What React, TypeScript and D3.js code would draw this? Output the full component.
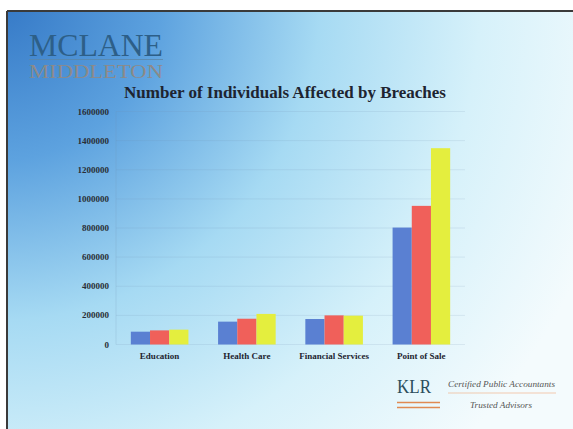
import React from 'react'
import * as d3 from 'd3'

const categories = ['Education', 'Health Care', 'Financial Services', 'Point of Sale']
const seriesNames = ['Series 1', 'Series 2', 'Series 3']
const series1 = [88000, 157000, 175000, 803000]
const series2 = [97000, 177000, 200000, 952000]
const series3 = [102000, 210000, 198000, 1348000]
const yTicks = [0, 200000, 400000, 600000, 800000, 1000000, 1200000, 1400000, 1600000]
const colors = ['#5a80d2', '#f0605a', '#e4ee3e']

const W = 573
const H = 429

const App = () => {
  const values = [series1, series2, series3]
  const x = d3.scaleBand().domain(categories).range([116, 465]).paddingInner(0.34).paddingOuter(0.17)
  const xs = d3.scaleBand().domain(seriesNames).range([0, x.bandwidth()])
  const y = d3.scaleLinear().domain([0, 1600000]).range([344.5, 111.5])
  const serif = '"Liberation Serif", "Times New Roman", serif'

  return (
    <svg width={W} height={H} style={{ position: 'fixed', left: 0, top: 0 }}>
      <defs>
        <radialGradient id='bg' gradientUnits='userSpaceOnUse' cx={0} cy={0} r={640}>
          <stop offset='0' stopColor='#3478c6' />
          <stop offset='0.25' stopColor='#5da2df' />
          <stop offset='0.5' stopColor='#a6daf3' />
          <stop offset='0.75' stopColor='#d6f1fa' />
          <stop offset='1' stopColor='#f4fbfd' />
        </radialGradient>
      </defs>
      <rect x={0} y={0} width={W} height={H} fill='#ffffff' />
      <rect x={7} y={11} width={W - 7} height={H - 11} fill='url(#bg)' />
      <line x1={7} x2={W} y1={11} y2={11} stroke='#3a3a3a' strokeWidth={2} />
      <line x1={7} x2={7} y1={11} y2={H} stroke='#3a3a3a' strokeWidth={2} />

      {/* logo top left */}
      <text x={29} y={56} fontFamily={serif} fontSize={32} fill='#2d5f88' textLength={134} lengthAdjust='spacingAndGlyphs'>MCLANE</text>
      <line x1={29} x2={163} y1={59.5} y2={59.5} stroke='#5b86a8' strokeWidth={0.8} />
      <text x={29} y={78} fontFamily={serif} fontSize={18} fill='#8c8a88' textLength={134} lengthAdjust='spacingAndGlyphs'>MIDDLETON</text>

      <text x={285} y={98} textAnchor='middle' fontFamily={serif} fontWeight='bold' fontSize={17} fill='#1e2430'>
        Number of Individuals Affected by Breaches
      </text>

      {/* grid */}
      {yTicks.map(t => (
        <line key={'g' + t} x1={116} x2={465} y1={y(t)} y2={y(t)} stroke='#6f8fb0' strokeOpacity={0.15} />
      ))}
      <line x1={116} x2={116} y1={y(1600000)} y2={y(0)} stroke='#6f8fb0' strokeOpacity={0.2} />

      {yTicks.map(t => (
        <text key={'t' + t} x={109} y={y(t) + 3} textAnchor='end' fontFamily={serif} fontWeight='bold' fontSize={9} fill='#2a2e36'>
          {t}
        </text>
      ))}

      {categories.map((c, i) => (
        <g key={c} transform={`translate(${x(c)},0)`}>
          {seriesNames.map((s, j) => (
            <rect
              key={s}
              x={xs(s)}
              y={y(values[j][i])}
              width={xs.bandwidth()}
              height={y(0) - y(values[j][i])}
              fill={colors[j]}
            />
          ))}
          <text x={x.bandwidth() / 2} y={359} textAnchor='middle' fontFamily={serif} fontWeight='bold' fontSize={9} fill='#1e2430'>
            {c}
          </text>
        </g>
      ))}

      {/* KLR logo */}
      <text x={397} y={393} fontFamily={serif} fontSize={19} fill='#2b4e5c' textLength={34} lengthAdjust='spacingAndGlyphs'>KLR</text>
      <line x1={397} x2={440} y1={402.5} y2={402.5} stroke='#e08a52' strokeWidth={1.6} />
      <line x1={397} x2={440} y1={407.5} y2={407.5} stroke='#e08a52' strokeWidth={1.6} />
      <text x={448} y={387} fontFamily={serif} fontStyle='italic' fontSize={7.5} fill='#555555' textLength={107} lengthAdjust='spacingAndGlyphs'>
        Certified Public Accountants
      </text>
      <line x1={448} x2={556} y1={393} y2={393} stroke='#f0b48c' strokeWidth={0.7} />
      <text x={470} y={408} fontFamily={serif} fontStyle='italic' fontSize={7.5} fill='#555555' textLength={62} lengthAdjust='spacingAndGlyphs'>
        Trusted Advisors
      </text>
    </svg>
  )
}

export default App
